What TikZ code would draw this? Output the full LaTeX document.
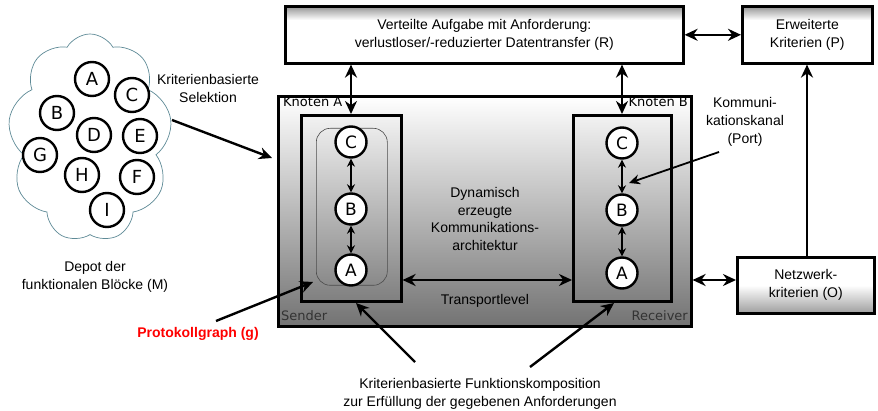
\documentclass[tikz,border=0pt]{standalone}
\usepackage{fontspec}
\setmainfont{Liberation Sans}
\newfontfamily\dvs{DejaVu Sans}
\usetikzlibrary{arrows.meta,shapes.symbols,calc}
\definecolor{cloudc}{HTML}{5E8A96}
\pgfdeclareverticalshading{topfade}{100bp}{color(0bp)=(white); color(63bp)=(white); color(75bp)=(black!42); color(100bp)=(black!42)}
\pgfdeclareverticalshading{botfade}{100bp}{color(0bp)=(black!38); color(25bp)=(black!38); color(50bp)=(white); color(100bp)=(white)}
\pgfdeclareverticalshading{bigfade}{100bp}{color(0bp)=(black!55); color(25bp)=(black!55); color(75bp)=(white); color(100bp)=(white)}
\pgfdeclareverticalshading{innerfade}{100bp}{color(0bp)=(black!50); color(25bp)=(black!50); color(75bp)=(black!5); color(100bp)=(black!5)}
\tikzset{
  txt/.style={font=\fontsize{14}{18}\selectfont, align=center, inner sep=0pt},
  lbl/.style={font=\dvs\fontsize{13}{15}\selectfont, inner sep=0pt},
  blk/.style={circle, draw, line width=2.4pt, fill=white, minimum size=31pt, inner sep=0pt, font=\dvs\fontsize{17}{17}\selectfont},
  cblk/.style={blk, minimum size=34pt, font=\dvs\fontsize{18}{18}\selectfont},
  arr/.style={line width=2.4pt, -{Stealth[length=13pt,width=12pt]}},
  darr/.style={line width=2.4pt, {Stealth[length=13pt,width=12pt]}-{Stealth[length=13pt,width=12pt]}},
  sarr/.style={line width=1.8pt, {Stealth[length=8pt,width=8pt]}-{Stealth[length=8pt,width=8pt]}},
  boxline/.style={line width=2.6pt},
}
\begin{document}
\begin{tikzpicture}[x=1pt,y=-1pt]
\useasboundingbox (0,0) rectangle (878,411);
% boxes
\node[boxline, draw, shading=topfade, minimum width=398pt, minimum height=57pt, anchor=north west, inner sep=0pt] (R) at (284,5) {};
\node[txt] at (R.center) {Verteilte Aufgabe mit Anforderung:\\verlustloser/-reduzierter Datentransfer (R)};
\node[boxline, draw, shading=topfade, minimum width=130pt, minimum height=57pt, anchor=north west, inner sep=0pt] (P) at (741,5) {};
\node[txt] at (P.center) {Erweiterte\\Kriterien (P)};
\node[boxline, draw, shading=botfade, minimum width=137pt, minimum height=56pt, anchor=north west, inner sep=0pt] (O) at (736,256) {};
\node[txt] at (O.center) {Netzwerk-\\kriterien (O)};
\node[boxline, draw, shading=bigfade, minimum width=413pt, minimum height=230pt, anchor=north west, inner sep=0pt] (M) at (277,95) {};
\node[boxline, draw, shading=innerfade, minimum width=100pt, minimum height=186pt, anchor=north west, inner sep=0pt] (KA) at (300,114) {};
\node[boxline, draw, shading=innerfade, minimum width=98pt, minimum height=186pt, anchor=north west, inner sep=0pt] (KB) at (572,114) {};
\node[draw=black!70, line width=0.6pt, rounded corners=14pt, minimum width=71pt, minimum height=157pt, anchor=north west, inner sep=0pt] (G) at (316,128) {};
% labels
\node[lbl, anchor=north west] at (283,97) {Knoten A};
\node[lbl, anchor=north east] at (688,97) {Knoten B};
\node[lbl, anchor=south west, text=black!80] at (281,321) {Sender};
\node[lbl, anchor=south east, text=black!80] at (688,321) {Receiver};
% graph nodes
\node[blk] (AC) at (351,142) {C};
\node[blk] (AB) at (351,209) {B};
\node[blk] (AA) at (351,270) {A};
\node[blk] (BC) at (622,143) {C};
\node[blk] (BB) at (622,210) {B};
\node[blk] (BA) at (622,273) {A};
\draw[sarr] (AC) -- (AB);
\draw[sarr] (AB) -- (AA);
\draw[sarr] (BC) -- (BB);
\draw[sarr] (BB) -- (BA);
% cloud
\node[cloud, cloud puffs=9, cloud puff arc=120, aspect=0.8, draw=cloudc, line width=0.7pt, minimum width=164pt, minimum height=208pt, inner sep=0pt] (cloud) at (90,138) {};
\node[cblk] (cA) at (92,79) {A};
\node[cblk] (cC) at (132,95) {C};
\node[cblk] (cB) at (57,113) {B};
\node[cblk] (cD) at (94,135) {D};
\node[cblk] (cE) at (140,136) {E};
\node[cblk] (cG) at (40,155) {G};
\node[cblk] (cH) at (82,175) {H};
\node[cblk] (cF) at (137,177) {F};
\node[cblk] (cI) at (107,210) {I};
% texts
\node[txt] (sel) at (208,89) {Kriterienbasierte\\Selektion};
\node[txt] (depot) at (95,277) {Depot der\\funktionalen Blöcke (M)};
\node[txt, font=\fontsize{14}{17.5}\selectfont] (dyn) at (485,219) {Dynamisch\\erzeugte\\Kommunikations-\\architektur};
\node[txt] (tl) at (485,301) {Transportlevel};
\node[txt] (port) at (745,122) {Kommuni-\\kationskanal\\(Port)};
\node[txt, text=red, font=\bfseries\fontsize{14}{16}\selectfont] (pg) at (198,334) {Protokollgraph (g)};
\node[txt] (kf) at (480,394) {Kriterienbasierte Funktionskomposition\\zur Erfüllung der gegebenen Anforderungen};
% connector coordinates
\coordinate (s1) at (172,120);
\coordinate (t1) at (272,158);
\coordinate (p1) at (719,152);
\coordinate (p2) at (629,183);
\coordinate (g1) at (216,321);
\coordinate (g2) at (313,282);
\coordinate (k1) at (415,362);
\coordinate (k2) at (356,303);
\coordinate (k3) at (530,367);
\coordinate (k4) at (614,303);
% connectors
\draw[darr] (R.south -| AC) -- (KA.north -| AC);
\draw[darr] (R.south -| BC) -- (KB.north -| BC);
\draw[darr] (R.east) -- (P.west);
\draw[arr] (O.north -| 807,0) -- (P.south -| 807,0);
\draw[darr] (M.east |- 0,280) -- (O.west |- 0,280);
\draw[darr] (KA.east |- 0,280) -- (KB.west |- 0,280);
\draw[arr] (s1) -- (t1);
\draw[arr, line width=1.8pt, -{Stealth[length=11pt,width=10pt]}] (p1) -- (p2);
\draw[arr] (g1) -- (g2);
\draw[arr] (k1) -- (k2);
\draw[arr] (k3) -- (k4);
\end{tikzpicture}
\end{document}
